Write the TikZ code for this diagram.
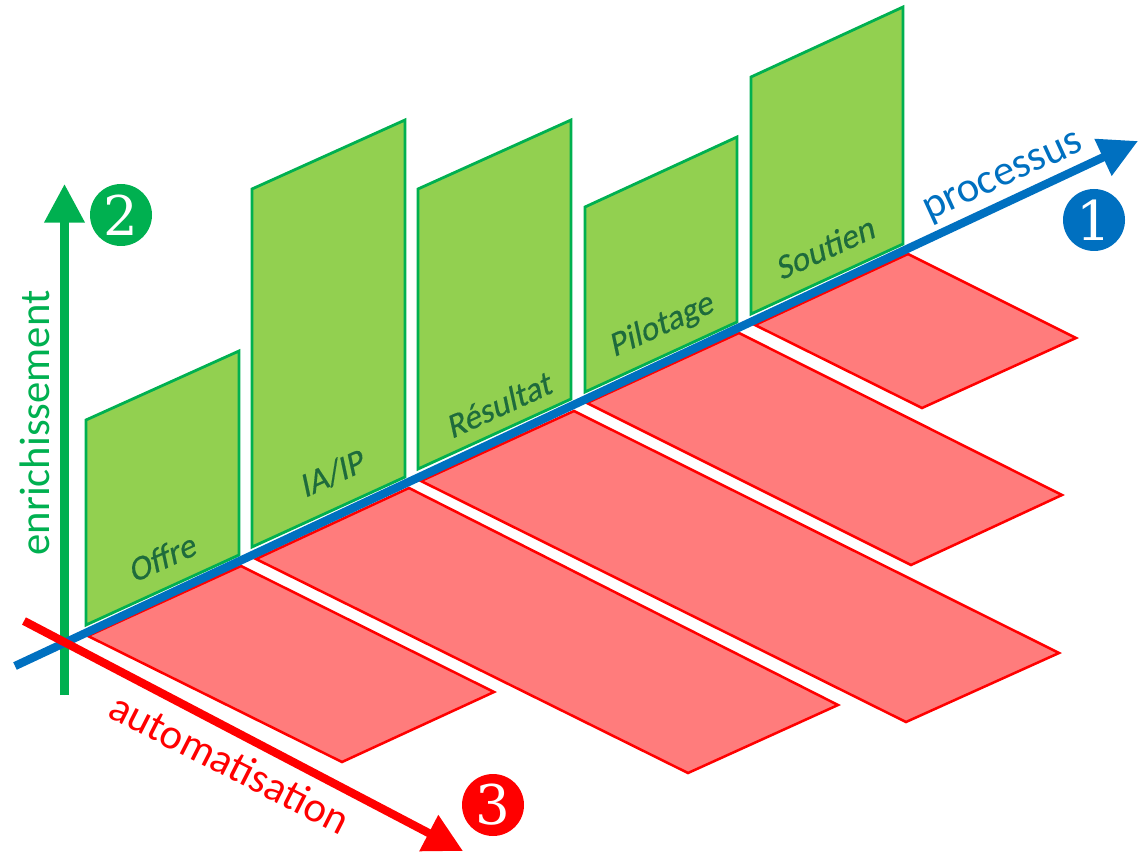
\documentclass[tikz,border=0pt]{standalone}
\usepackage{fontspec}
\setmainfont{Carlito}
\newfontfamily\digitfont{DejaVu Serif}
\newfontfamily\slantfont[FakeSlant=0.22,FakeBold=0.4]{Carlito}
\usetikzlibrary{arrows.meta}
\definecolor{axisblue}{HTML}{0070C0}
\definecolor{axisgreen}{HTML}{00B050}
\definecolor{panelgreen}{HTML}{92D050}
\definecolor{axisred}{HTML}{FF0000}
\definecolor{panelred}{HTML}{FF7C7C}
\definecolor{labelgreen}{HTML}{1E6B3C}
\tikzset{
  greenpanel/.style={draw=axisgreen,fill=panelgreen,line width=2.1pt,line join=miter},
  redpanel/.style={draw=axisred,fill=panelred,line width=1.9pt,line join=miter},
  axisline/.style={line width=6.2pt,-{Triangle[length=29pt,width=29pt]}},
  paneltext/.style={font=\fontsize{25.5}{25.5}\selectfont\slantfont,text=labelgreen,rotate=24.6,inner sep=0pt},
  axistext/.style={font=\fontsize{32}{32}\selectfont,inner sep=0pt},
  badge/.style={circle,minimum size=46.5pt,inner sep=0pt,text=white,font=\fontsize{41}{41}\selectfont\digitfont}
}
\begin{document}
\begin{tikzpicture}[x=0.75pt,y=-0.75pt]
\useasboundingbox (0,0) rectangle (1138,852);
% green panels
\draw[greenpanel] (86,420)--(239,351)--(239,555)--(86,625)--cycle;
\draw[greenpanel] (252,189)--(405,120)--(405,477)--(252,547)--cycle;
\draw[greenpanel] (418,189)--(571,120)--(571,399)--(418,469)--cycle;
\draw[greenpanel] (585,207)--(737,137)--(737,322)--(585,392)--cycle;
\draw[greenpanel] (751,77)--(903,7)--(903,244)--(751,314)--cycle;
% red panels
\draw[redpanel] (88,636)--(241,566)--(494,692)--(342,762)--cycle;
\draw[redpanel] (256,559)--(409,488)--(838,705)--(688,773)--cycle;
\draw[redpanel] (421,481)--(574,411)--(1059,653)--(906,722)--cycle;
\draw[redpanel] (587,403)--(739,333)--(1062,495)--(911,565)--cycle;
\draw[redpanel] (755,325)--(908,254)--(1076,338)--(922,408)--cycle;
% panel labels
\node[paneltext] (offre) at (161,558) {Offre};
\node[paneltext] (iaip) at (331,474) {IA/IP};
\node[paneltext] (resultat) at (498,405) {Résultat};
\node[paneltext] (pilotage) at (661,326) {Pilotage};
\node[paneltext] (soutien) at (824,248) {Soutien};
% axes
\coordinate (gs) at (64.5,695);
\coordinate (ge) at (64.5,184);
\coordinate (bs) at (15,666);
\coordinate (be) at (1138,141);
\coordinate (rs) at (24,621);
\coordinate (re) at (463,851);
\draw[axisline,draw=axisgreen,fill=axisgreen] (gs)--(ge);
\draw[axisline,draw=axisblue,fill=axisblue] (bs)--(be);
\draw[axisline,draw=axisred,fill=axisred] (rs)--(re);
% axis labels
\node[axistext,text=axisblue,rotate=24.6] (processus) at (1004,179) {processus};
\node[axistext,text=axisgreen,rotate=90] (enrichissement) at (35,423) {enrichissement};
\node[axistext,text=axisred,rotate=-27] (automatisation) at (230,763) {automatisation};
% badges
\node[badge,fill=axisblue] (one) at (1094,220) {1};
\node[badge,fill=axisgreen] (two) at (121,215) {2};
\node[badge,fill=axisred] (three) at (493,805) {3};
\end{tikzpicture}
\end{document}
